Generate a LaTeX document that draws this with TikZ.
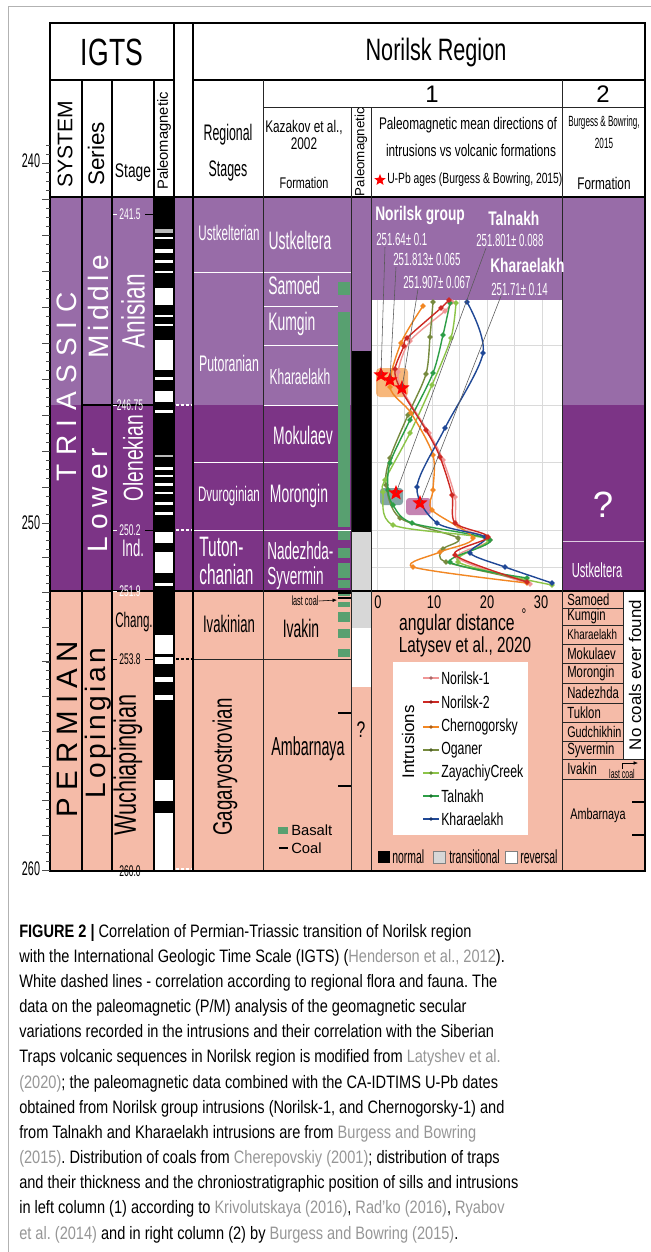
\documentclass[tikz,border=0pt]{standalone}
\usepackage{fontspec}
\setmainfont{Liberation Sans}
\newfontfamily\narrow[FakeStretch=0.7]{Liberation Sans}
\newfontfamily\cond[FakeStretch=0.55]{Liberation Sans}
\newfontfamily\capfont[FakeStretch=0.81]{Liberation Sans}
\usetikzlibrary{shapes.geometric,arrows.meta}
\frenchspacing

\definecolor{midtri}{RGB}{152,108,168}
\definecolor{lowtri}{RGB}{124,52,134}
\definecolor{perm}{RGB}{245,187,168}
\definecolor{basalt}{RGB}{88,160,112}
\definecolor{transgrey}{RGB}{215,215,215}
\definecolor{gridgrey}{RGB}{218,218,218}
\definecolor{refgrey}{RGB}{150,150,150}
\definecolor{norone}{RGB}{240,150,150}
\definecolor{nortwo}{RGB}{205,40,35}
\definecolor{chern}{RGB}{242,135,35}
\definecolor{ogan}{RGB}{118,138,62}
\definecolor{zaya}{RGB}{140,196,72}
\definecolor{taln}{RGB}{45,158,70}
\definecolor{khar}{RGB}{32,72,150}

\newcommand\fsz[1]{\fontsize{#1}{#1}\selectfont}
\newcommand\refc[1]{\textcolor{refgrey}{#1}}

\tikzset{
  lab/.style={inner sep=0pt},
  wlab/.style={lab, text=white},
  redstar/.style={star, star points=5, star point ratio=2.3, fill=red, inner sep=0pt, minimum size=4mm},
  leader/.style={gray!70!black, line width=0.4pt},
  tline/.style={line width=0.8pt},
  gline/.style={gray!30!black, line width=0.6pt},
  intr/.style={line width=1pt, mark=*, mark size=1.3pt},
  corr/.style={line width=0.8pt, dash pattern=on 2pt off 1.5pt},
  caption/.style={lab, anchor=base west, font=\capfont\fsz{12.8}}
}

\begin{document}
\begin{tikzpicture}[x=0.25mm, y=-0.25mm]
\useasboundingbox (0,0) rectangle (651,1252);
\draw[gray!60, line width=0.6pt] (8,1252) -- (8,6) -- (651,6);

% stage colours
\fill[midtri] (50,197) rectangle (645,405);
\fill[lowtri] (50,405) rectangle (645,591);
\fill[perm] (50,591) rectangle (645,871);

% IGTS polarity
\fill[black] (155,197) rectangle (173,871);
\foreach \a/\b in {237/239,249/253,260/263,271/273,288/305,315/317,324/326,340/370,377/380,391/402,410/413,467/470,475/477,483/486,492/494,502/505,512/515,532/543,552/573,583/586,635/654,657/664,677/682,695/700,780/801,813/871}
  \fill[white] (155,\a) rectangle (173,\b);
\foreach \a/\b in {229/233,455/457}
  \fill[gray!55] (155,\a) rectangle (173,\b);

% Norilsk polarity
\fill[black] (351,351) rectangle (371,532);
\fill[transgrey] (351,532) rectangle (371,628);
\fill[white] (351,628) rectangle (371,687);

% basalt and coal
\foreach \a/\b in {282/295,312/527,530/540,548/558,563/578,580/588,590/596,602/607,612/622,629/638,649/657}
  \fill[basalt] (338,\a) rectangle (350,\b);
\foreach \yy in {593,598,713,786}
  \draw[line width=1pt] (338,\yy) -- (351,\yy);

% plot area
\fill[white] (371,300) rectangle (562,590);
\foreach \gx in {377,404.5,432,459.5,487,514.5,542}
  \draw[gridgrey, line width=0.6pt] (\gx,300) -- (\gx,590);
\foreach \gy in {345,405,462,530,548,567}
  \draw[gridgrey, line width=0.6pt] (371,\gy) -- (562,\gy);

% column 2
\fill[white] (623,592) rectangle (645,759);
\draw[white!75!lowtri, line width=0.6pt] (562,541) -- (645,541);
\foreach \yy in {608,625,644,663,683,703,722,741}
  \draw[gline, line width=0.5pt] (562,\yy) -- (623,\yy);
\draw[gline] (562,759) -- (645,759) (562,779) -- (645,779) (623,592) -- (623,759);
\draw[line width=1pt] (632,802) -- (645,802) (632,835) -- (645,835);

% regional stages and formations
\draw[white, line width=0.6pt] (193,272) -- (351,272) (263,306) -- (338,306) (263,345) -- (338,345)
  (263,405) -- (338,405) (193,462) -- (338,462) (193,530) -- (351,530);
\draw[gline] (193,659) -- (351,659);

% correlation lines
\draw[corr, white] (176,405) -- (192,405) (176,530) -- (192,530) (176,591) -- (192,591) (176,869) -- (192,869);
\draw[corr, black] (176,659) -- (192,659);

% table
\draw[tline] (50,80) -- (174,80) (193,80) -- (645,80) (50,197) -- (645,197);
\draw[line width=1.1pt] (174,23) -- (174,871) (193,23) -- (193,871);
\draw[tline] (82,80) -- (82,871) (112,80) -- (112,871) (154,80) -- (154,871) (82,405) -- (154,405);
\draw[tline] (50,591) -- (645,591);
\draw[gline] (263,80) -- (263,871) (263,107) -- (645,107) (562,80) -- (562,871)
  (351,107) -- (351,871) (371,107) -- (371,871);
\draw[line width=1.4pt] (50,23) rectangle (645,871);

% time ruler
\foreach \k in {-2,...,40}
  \draw[gray!60!black, line width=0.4pt] (46,{163+9*\k}) -- (50,{163+9*\k});
\foreach \k in {1,...,40}
  \draw[gray!60!black, line width=0.4pt] (46,{523+8.675*\k}) -- (50,{523+8.675*\k});
\foreach \k in {0,...,10}
  \draw[gray!60!black, line width=0.5pt] (42,{163+36*\k}) -- (50,{163+36*\k});
\foreach \k in {1,...,10}
  \draw[gray!60!black, line width=0.5pt] (42,{523+34.7*\k}) -- (50,{523+34.7*\k});
\node[lab, font=\cond\fsz{14}] (ma240) at (31,161) {240};
\node[lab, font=\cond\fsz{14}] (ma250) at (31,523) {250};
\node[lab, font=\cond\fsz{14}] (ma260) at (31,869) {260};

% stage ages
\foreach \yy/\lab/\col in {214/241.5/white,405/246.75/white,530/250.2/white,591/251.9/white,659/253.8/black,871/260.0/black} {
  \draw[\col, line width=0.6pt] (113,\yy) -- (117,\yy);
  \draw[line width=0.6pt] (145,\yy) -- (155,\yy);
  \node[lab, text=\col, font=\cond\fsz{11}] (age\yy) at (130,\yy) {\lab};
}

% header
\node[lab, font=\narrow\fsz{27}] (igts) at (112,52) {IGTS};
\node[lab, font=\narrow\fsz{22}] (region) at (436,52) {Norilsk Region};
\node[lab, font=\fsz{17}] (colone) at (432,94) {1};
\node[lab, font=\fsz{17}] (coltwo) at (603,94) {2};
\node[lab, rotate=90, font=\fsz{15}] (system) at (65,144) {SYSTEM};
\node[lab, rotate=90, font=\fsz{16}] (series) at (96,154) {Series};
\node[lab, font=\narrow\fsz{14}] (stage) at (133,173) {Stage};
\node[lab, rotate=90, font=\fsz{10.5}] (igtspm) at (164,141) {Paleomagnetic};
\node[lab, font=\cond\fsz{16}] (regional) at (228,135) {Regional};
\node[lab, font=\cond\fsz{16}] (stages) at (228,171) {Stages};
\node[lab, font=\narrow\fsz{12}] (kazakov) at (304,127) {Kazakov et al.,};
\node[lab, font=\narrow\fsz{12}] (kazyear) at (304,144) {2002};
\node[lab, font=\narrow\fsz{11}] (kazform) at (304,183) {Formation};
\node[lab, rotate=90, font=\fsz{9.5}] (norpm) at (361,152) {Paleomagnetic};
\node[lab, font=\narrow\fsz{12}] (pmdir) at (468,125) {Paleomagnetic mean directions of};
\node[lab, font=\narrow\fsz{12}] (pmvs) at (471,150) {intrusions vs volcanic formations};
\node[redstar, minimum size=3mm] (upbstar) at (380,180) {};
\node[lab, anchor=west, font=\narrow\fsz{10.5}] (upb) at (387,180) {U-Pb ages (Burgess \& Bowring, 2015)};
\node[lab, font=\cond\fsz{10.5}] (bb) at (604,123) {Burgess \& Bowring,};
\node[lab, font=\cond\fsz{10.5}] (bbyear) at (604,143) {2015};
\node[lab, font=\narrow\fsz{12}] (bbform) at (604,183) {Formation};

% system, series, stage
\node[wlab, rotate=90, font=\fsz{20}] (triassic) at (67,387) {T\kern6pt R\kern6pt I\kern6pt A\kern6pt S\kern6pt S\kern6pt I\kern6pt C};
\node[lab, rotate=90, font=\fsz{21}] (permian) at (67,729) {P\kern5pt E\kern5pt R\kern5pt M\kern5pt I\kern5pt A\kern5pt N};
\node[wlab, rotate=90, font=\fsz{20}] (middle) at (98,307) {M\kern3pt i\kern3pt d\kern3pt d\kern3pt l\kern3pt e};
\node[wlab, rotate=90, font=\fsz{20}] (lower) at (98,500) {L\kern5pt o\kern5pt w\kern5pt e\kern5pt r};
\node[lab, rotate=90, font=\fsz{20}] (lopingian) at (98,723) {L\kern2.5pt o\kern2.5pt p\kern2.5pt i\kern2.5pt n\kern2.5pt g\kern2.5pt i\kern2.5pt a\kern2.5pt n};
\node[wlab, rotate=90, font=\narrow\fsz{23}] (anisian) at (133,311) {Anisian};
\node[wlab, rotate=90, font=\narrow\fsz{19.5}] (olenekian) at (133,458) {Olenekian};
\node[wlab, font=\cond\fsz{17}] (ind) at (133,548) {Ind.};
\node[lab, font=\cond\fsz{15}] (chang) at (134,622) {Chang.};
\node[lab, rotate=90, font=\narrow\fsz{22}] (wuchia) at (128,765) {Wuchiapingian};

% regional stages
\node[wlab, font=\cond\fsz{15}] (ustkelterian) at (229,233) {Ustkelterian};
\node[wlab, font=\cond\fsz{16}] (putoranian) at (229,363) {Putoranian};
\node[wlab, font=\cond\fsz{15}] (dvuroginian) at (229,496) {Dvuroginian};
\node[wlab, anchor=west, font=\cond\fsz{20}] (tuton) at (199,547) {Tuton-};
\node[wlab, anchor=west, font=\cond\fsz{20}] (chanian) at (199,574) {chanian};
\node[lab, font=\cond\fsz{17}] (ivakinian) at (229,624) {Ivakinian};
\node[lab, rotate=90, font=\narrow\fsz{19}] (gagar) at (225,767) {Gagaryostrovian};

% formations
\node[wlab, font=\cond\fsz{18}] (ustkeltera) at (300,240) {Ustkeltera};
\node[wlab, anchor=west, font=\cond\fsz{18}] (samoed) at (268,285) {Samoed};
\node[wlab, anchor=west, font=\cond\fsz{18}] (kumgin) at (268,324) {Kumgin};
\node[wlab, font=\cond\fsz{15.5}] (kharaelakh) at (300,377) {Kharaelakh};
\node[wlab, font=\cond\fsz{18}] (mokulaev) at (303,435) {Mokulaev};
\node[wlab, font=\cond\fsz{18}] (morongin) at (299,496) {Morongin};
\node[wlab, anchor=west, font=\cond\fsz{17.5}] (nadezhda) at (267,551) {Nadezhda-};
\node[wlab, anchor=west, font=\cond\fsz{17.5}] (syvermin) at (267,578) {Syvermin};
\node[lab, font=\cond\fsz{18}] (ivakin) at (301,628) {Ivakin};
\node[lab, font=\cond\fsz{18.5}] (ambarnaya) at (308,749) {Ambarnaya};
\node[lab, font=\cond\fsz{9.5}] (lastcoal) at (305,601) {last coal};
\coordinate (lastcoaltip) at (337,600);
\draw[line width=0.4pt, -{Latex[length=1.1mm, width=0.9mm]}] (lastcoal.east) -- (lastcoaltip);
\node[lab, text=black, font=\narrow\fsz{16}] (pmunknown) at (361,730) {?};

% basalt and coal legend
\fill[basalt] (278,827) rectangle (288,834);
\draw[line width=1.2pt] (279,848) -- (288,848);
\node[lab, anchor=west, font=\fsz{10.5}] (basaltkey) at (291,830) {Basalt};
\node[lab, anchor=west, font=\fsz{10.5}] (coalkey) at (291,848) {Coal};

% age boxes
\fill[chern, opacity=0.6, rounded corners=1mm] (376,368) rectangle (408,397);
\fill[black!45!teal!60!white, opacity=0.8, rounded corners=0.8mm] (380,488) rectangle (403,505);
\fill[black!35!blue!30!purple!60!white, opacity=0.8, rounded corners=0.8mm] (406,498) rectangle (431,515);

% intrusions
\draw[intr, norone] plot[smooth, tension=0.5] coordinates {(452,302) (445,311) (410,341) (398,372) (403,391) (429,433) (443,460) (455,497) (458,526) (490,540) (458,558) (530,584)};
\draw[intr, ogan] plot[smooth, tension=0.5] coordinates {(433,302) (430,337) (426,374) (408,415) (390,458) (386,485) (400,518) (458,538) (443,549) (446,562) (525,580)};
\draw[intr, zaya] plot[smooth, tension=0.5] coordinates {(456,303) (451,338) (432,385) (410,433) (385,480) (383,492) (393,525) (487,539) (458,562) (552,585)};
\draw[intr, taln] plot[smooth, tension=0.5] coordinates {(450,303) (443,335) (433,373) (410,420) (390,463) (388,490) (393,505) (412,523) (490,540) (450,562) (527,578)};
\draw[intr, chern] plot[smooth, tension=0.5] coordinates {(423,306) (401,343) (390,387) (411,413) (433,455) (433,490) (432,510) (473,538) (440,552) (413,567) (527,583)};
\draw[intr, khar] plot[smooth, tension=0.5] coordinates {(467,302) (483,353) (445,428) (417,487) (437,523) (485,537) (470,553) (505,567) (552,583)};
\draw[intr, nortwo] plot[smooth, tension=0.5] coordinates {(449,300) (441,308) (407,338) (404,346) (395,369) (400,388) (426,430) (440,457) (452,495) (455,523) (488,537) (455,555) (527,582)};

% U-Pb ages
\node[redstar] (agea) at (381,375) {};
\node[redstar] (ageb) at (390,380) {};
\node[redstar] (agec) at (402,388) {};
\node[redstar] (aged) at (396,493) {};
\node[redstar] (agee) at (420,503) {};
\node[wlab, anchor=west, font=\narrow\bfseries\fsz{14}] (norgroup) at (375,215) {Norilsk group};
\node[wlab, anchor=west, font=\cond\fsz{12.5}] (uba) at (376,239) {251.64± 0.1};
\node[wlab, anchor=west, font=\cond\fsz{12.5}] (ubb) at (393,259) {251.813± 0.065};
\node[wlab, anchor=west, font=\cond\fsz{12.5}] (ubc) at (403,282) {251.907± 0.067};
\node[wlab, anchor=west, font=\narrow\bfseries\fsz{14}] (talnakh) at (488,218) {Talnakh};
\node[wlab, anchor=west, font=\cond\fsz{12.5}] (ubd) at (476,240) {251.801± 0.088};
\node[wlab, anchor=west, font=\narrow\bfseries\fsz{14}] (kharlab) at (490,265) {Kharaelakh};
\node[wlab, anchor=west, font=\cond\fsz{12.5}] (ube) at (491,289) {251.71± 0.14};
\coordinate (lda) at (385,247);
\coordinate (ldb) at (396,267);
\coordinate (ldc) at (418,289);
\coordinate (ldd) at (486,248);
\coordinate (lde) at (501,296);
\draw[leader] (lda) -- (agea.center) (ldb) -- (ageb.center) (ldc) -- (agec.center) (ldd) -- (aged.center) (lde) -- (agee.center);

% axis
\node[lab, font=\narrow\fsz{13}] (axzero) at (378,602) {0};
\node[lab, font=\narrow\fsz{13}] (axten) at (434,602) {10};
\node[lab, font=\narrow\fsz{13}] (axtwenty) at (487,602) {20};
\node[lab, font=\narrow\fsz{13}] (axthirty) at (541,602) {30};
\node[lab, font=\narrow\fsz{16}] (angdist) at (457,625) {angular distance};
\node[lab, font=\narrow\fsz{12}] (degree) at (524,615) {°};
\node[lab, font=\narrow\fsz{15.5}] (latysev) at (465,647) {Latysev et al., 2020};

% intrusion legend
\fill[white] (393,662) rectangle (528,835);
\node[lab, rotate=90, font=\fsz{12}] (intrusions) at (408,742) {Intrusions};
\foreach \yy/\cc/\lab in {678/norone/Norilsk-1,702/nortwo/Norilsk-2,727/chern/Chernogorsky,750/ogan/Oganer,773/zaya/ZayachiyCreek,796/taln/Talnakh,819/khar/Kharaelakh} {
  \draw[\cc, line width=2pt] (423,\yy) -- (439,\yy);
  \fill[\cc!70!black] (431,\yy) circle (1.4pt);
  \node[lab, anchor=west, font=\narrow\fsz{12.5}] (key\yy) at (441,\yy) {\lab};
}

% polarity legend
\fill[black] (378,851) rectangle (390,863);
\filldraw[fill=transgrey, draw=gray, line width=0.4pt] (433,851) rectangle (445,863);
\filldraw[fill=white, draw=gray, line width=0.4pt] (505,851) rectangle (517,863);
\node[lab, anchor=west, font=\cond\fsz{13.5}] (normal) at (392,857) {normal};
\node[lab, anchor=west, font=\cond\fsz{13.5}] (transitional) at (449,857) {transitional};
\node[lab, anchor=west, font=\cond\fsz{13.5}] (reversal) at (520,857) {reversal};

% column 2 labels
\node[wlab, font=\fsz{26}] (unknown) at (603,505) {?};
\node[wlab, font=\cond\fsz{14.5}] (ustkeltwo) at (597,570) {Ustkeltera};
\foreach \yy/\lab/\sz in {600/Samoed/11.5,616.5/Kumgin/11.5,634.5/Kharaelakh/10,653.5/Mokulaev/11.5,673/Morongin/11.5,693/Nadezhda/11.5,712.5/Tuklon/11.5,731.5/Gudchikhin/11,750/Syvermin/11.5,769/Ivakin/11.5}
  \node[lab, anchor=west, font=\narrow\fsz{\sz}] (form\lab) at (567,\yy) {\lab};
\node[lab, font=\cond\fsz{9}] (lastcoaltwo) at (622,774) {last coal};
\coordinate (lastcoaltwotip) at (638,763);
\draw[line width=0.4pt, -{Latex[length=1.1mm, width=0.9mm]}] (lastcoaltwo.north) |- (lastcoaltwotip);
\node[lab, font=\narrow\fsz{11}] (ambartwo) at (598,815) {Ambarnaya};
\node[lab, rotate=90, font=\fsz{12}] (nocoals) at (635,675) {No coals ever found};

% caption
\node[caption] (cap1) at (19,937) {\textbf{FIGURE 2 |} Correlation of Permian-Triassic transition of Norilsk region};
\node[caption] (cap2) at (19,962.2) {with the International Geologic Time Scale (IGTS) (\refc{Henderson et al., 2012}).};
\node[caption] (cap3) at (19,987.3) {White dashed lines - correlation according to regional flora and fauna. The};
\node[caption] (cap4) at (19,1012.5) {data on the paleomagnetic (P/M) analysis of the geomagnetic secular};
\node[caption] (cap5) at (19,1037.7) {variations recorded in the intrusions and their correlation with the Siberian};
\node[caption] (cap6) at (19,1062.9) {Traps volcanic sequences in Norilsk region is modified from \refc{Latyshev et al.}};
\node[caption] (cap7) at (19,1088) {\refc{(2020)}; the paleomagnetic data combined with the CA-IDTIMS U-Pb dates};
\node[caption] (cap8) at (19,1113.2) {obtained from Norilsk group intrusions (Norilsk-1, and Chernogorsky-1) and};
\node[caption] (cap9) at (19,1138.4) {from Talnakh and Kharaelakh intrusions are from \refc{Burgess and Bowring}};
\node[caption] (cap10) at (19,1163.5) {\refc{(2015)}. Distribution of coals from \refc{Cherepovskiy (2001)}; distribution of traps};
\node[caption] (cap11) at (19,1188.7) {and their thickness and the chroniostratigraphic position of sills and intrusions};
\node[caption] (cap12) at (19,1213.9) {in left column (1) according to \refc{Krivolutskaya (2016)}, \refc{Rad’ko (2016)}, \refc{Ryabov}};
\node[caption] (cap13) at (19,1239) {\refc{et al. (2014)} and in right column (2) by \refc{Burgess and Bowring (2015)}.};
\end{tikzpicture}
\end{document}
